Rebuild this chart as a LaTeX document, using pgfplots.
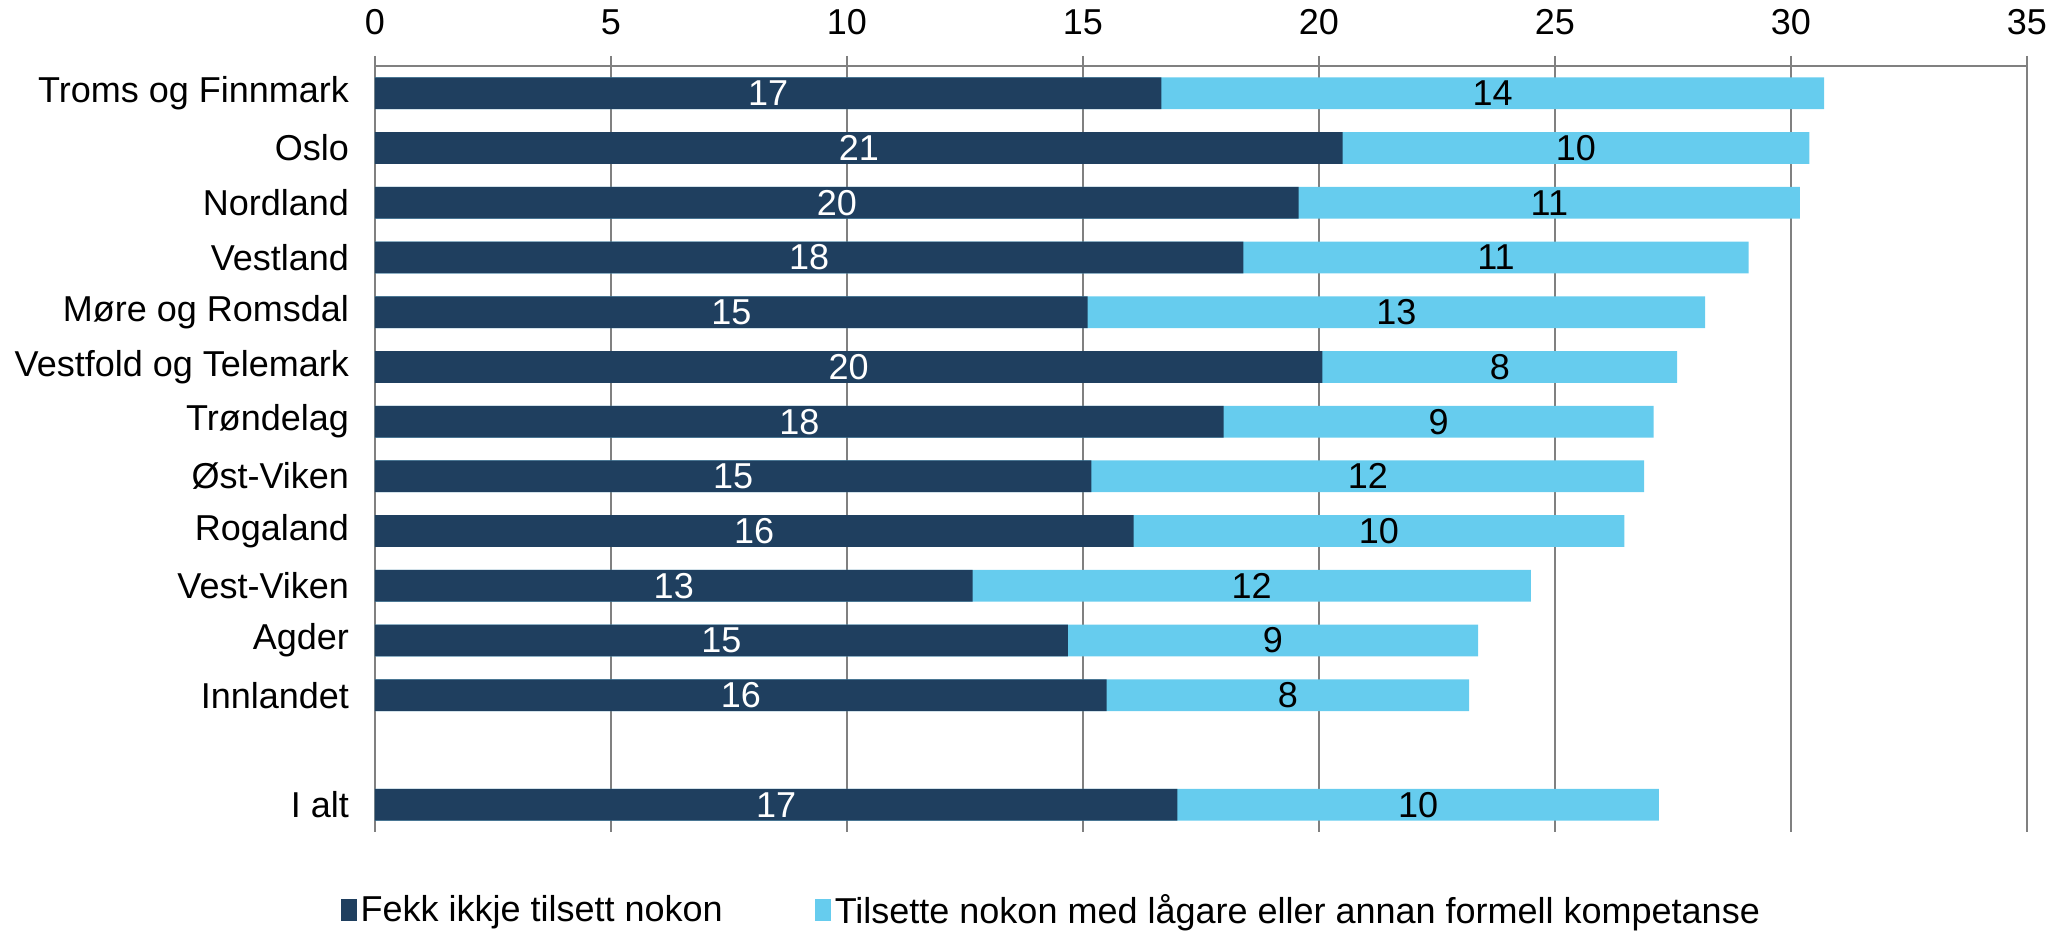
\documentclass[border=0pt]{standalone}
\usepackage{pgfplots}
\pgfplotsset{compat=1.18}
\usepackage{fontspec}
\setmainfont{Liberation Sans}
\definecolor{darkb}{HTML}{1F3F5F}
\definecolor{lightb}{HTML}{66CCEE}
\definecolor{gridc}{HTML}{808080}
\newcommand{\lblfont}{\fontsize{18pt}{21pt}\selectfont}
\begin{document}
\begin{tikzpicture}
\useasboundingbox (-187.5pt,-49.5pt) rectangle (846.5pt,416pt);
\begin{axis}[
  at={(0,0)}, anchor=south west,
  scale only axis,
  width=826pt, height=383pt,
  xmin=0, xmax=35, ymin=-0.5, ymax=13.5,
  axis x line*=top,
  axis y line*=left,
  axis line style={gridc, line width=1.2pt},
  xtick={0,5,10,15,20,25,30,35},
  xmajorgrids, grid style={gridc, line width=0.8pt},
  tick align=outside,
  major tick length=5pt,
  xtick style={gridc, line width=0.8pt},
  xticklabel style={yshift=7pt},
  ytick={0,2,3,4,5,6,7,8,9,10,11,12,13},
  yticklabels={I alt, Innlandet, Agder, Vest-Viken, Rogaland, Øst-Viken, Trøndelag, Vestfold og Telemark, Møre og Romsdal, Vestland, Nordland, Oslo, Troms og Finnmark},
  ytick style={draw=none},
  yticklabel style={xshift=-4.5pt},
  tick label style={font=\lblfont},
  /pgf/number format/assume math mode=true,
  legend style={at={(0.41,-0.102)}, anchor=center, draw=none, fill=none, legend columns=2, font=\lblfont, /tikz/every even column/.append style={column sep=44pt}},
  legend image code/.code={\fill[#1] (0pt,-5.5pt) rectangle (8pt,5.5pt);},
]
\addplot[xbar, bar width=0.58, bar shift=0pt, fill=lightb, draw=none, forget plot] coordinates {
(30.70,13) (30.39,12) (30.19,11) (29.10,10) (28.18,9) (27.59,8) (27.09,7) (26.89,6) (26.47,5) (24.49,4) (23.37,3) (23.18,2) (27.20,0)};
\addplot[xbar, bar width=0.58, bar shift=0pt, fill=darkb, draw=none, forget plot] coordinates {
(16.66,13) (20.50,12) (19.57,11) (18.40,10) (15.10,9) (20.07,8) (17.98,7) (15.18,6) (16.07,5) (12.66,4) (14.68,3) (15.50,2) (17.00,0)};
\addplot[draw=none, mark=none, forget plot, nodes near coords, point meta=explicit symbolic, nodes near coords align={anchor=center}, every node near coord/.append style={text=white, font=\lblfont}] coordinates {
(8.33,13) [17] (10.25,12) [21] (9.785,11) [20] (9.20,10) [18] (7.55,9) [15] (10.035,8) [20] (8.99,7) [18] (7.59,6) [15] (8.035,5) [16] (6.33,4) [13] (7.34,3) [15] (7.75,2) [16] (8.50,0) [17]};
\addplot[draw=none, mark=none, forget plot, nodes near coords, point meta=explicit symbolic, nodes near coords align={anchor=center}, every node near coord/.append style={text=black, font=\lblfont}] coordinates {
(23.68,13) [14] (25.445,12) [10] (24.88,11) [11] (23.75,10) [11] (21.64,9) [13] (23.83,8) [8] (22.535,7) [9] (21.035,6) [12] (21.27,5) [10] (18.575,4) [12] (19.025,3) [9] (19.34,2) [8] (22.10,0) [10]};
\addlegendimage{fill=darkb, draw=none}
\addlegendentry{Fekk ikkje tilsett nokon}
\addlegendimage{fill=lightb, draw=none}
\addlegendentry{Tilsette nokon med lågare eller annan formell kompetanse}
\end{axis}
\end{tikzpicture}
\end{document}
